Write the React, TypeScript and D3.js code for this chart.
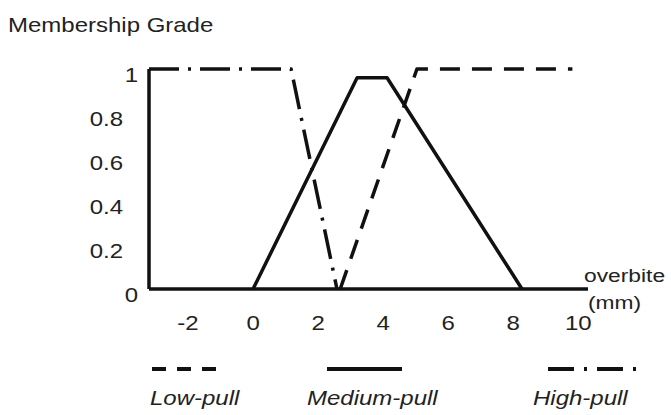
import * as React from "react"
import * as d3 from "d3"

// membership functions, overbite (mm) vs grade
const lowPull: [number, number][] = [
  [2.68, 0],
  [5.04, 1],
  [9.82, 1],
]
const mediumPull: [number, number][] = [
  [0, 0],
  [3.2, 0.96],
  [4.12, 0.96],
  [8.27, 0],
]
const highPull: [number, number][] = [
  [-3.2, 1],
  [1.17, 1],
  [2.58, 0],
]

const xTicks = [-2, 0, 2, 4, 6, 8, 10]
const yTicks = [0, 0.2, 0.4, 0.6, 0.8, 1]

const legendNames = ["Low-pull", "Medium-pull", "High-pull"]

const WIDTH = 671
const HEIGHT = 415
const FONT = "'Liberation Sans', Arial, sans-serif"
const INK = "#111"
const TEXT = "#222"
const SX = 1.2 // the scan is stretched horizontally

export default function App(): React.JSX.Element {
  const xScale = d3.scaleLinear().domain([-3.2, 10.3]).range([149, 588])
  const yScale = d3.scaleLinear().domain([0, 1]).range([289, 69])

  const line = d3
    .line<[number, number]>()
    .x((d) => xScale(d[0]))
    .y((d) => yScale(d[1]))

  const styles = [
    { data: lowPull, dash: "20,12", legendDash: "14,11" },
    { data: mediumPull, dash: "none", legendDash: "none" },
    { data: highPull, dash: "30,9,3,9", legendDash: "26,10,3,10" },
  ]

  // legend layout
  const legendText = [150, 307, 533]
  const legendLine: [number, number][] = [
    [152, 218],
    [327, 402],
    [548, 640],
  ]

  const label = (
    x: number,
    y: number,
    text: string,
    size: number,
    anchor: string,
    italic = false,
    key?: string
  ) => (
    <text
      key={key ?? text}
      transform={`translate(${x},${y}) scale(${SX},1)`}
      textAnchor={anchor}
      dy="0.35em"
      fontSize={size}
      fontFamily={FONT}
      fontStyle={italic ? "italic" : "normal"}
      fill={TEXT}
    >
      {text}
    </text>
  )

  return (
    <svg
      width={WIDTH}
      height={HEIGHT}
      style={{ position: "absolute", left: 0, top: 0, background: "white" }}
    >
      {label(8, 25, "Membership Grade", 20, "start")}

      {/* axes */}
      <line
        x1={xScale(-3.2)}
        x2={xScale(-3.2)}
        y1={yScale(0)}
        y2={yScale(1)}
        stroke={INK}
        strokeWidth={3.5}
      />
      <line
        x1={xScale(-3.2)}
        x2={xScale(10.3)}
        y1={yScale(0)}
        y2={yScale(0)}
        stroke={INK}
        strokeWidth={3.5}
      />

      {/* y tick labels, sitting a little below their grade */}
      {yTicks.map((t) =>
        label(
          xScale(-3.2) - (t === 0 || t === 1 ? 11 : 26),
          yScale(t) + 6,
          d3.format("~g")(t),
          20,
          "end"
        )
      )}

      {xTicks.map((t) => label(xScale(t), 323, String(t), 20, "middle"))}

      {label(584, 275, "overbite", 19, "start")}
      {label(588, 302, "(mm)", 19, "start")}

      {/* membership curves */}
      {styles.map((s, i) => (
        <path
          key={legendNames[i]}
          d={line(s.data) ?? ""}
          fill="none"
          stroke={INK}
          strokeWidth={3.5}
          strokeDasharray={s.dash}
          strokeLinejoin="round"
        />
      ))}

      {/* legend */}
      {legendNames.map((name, i) => (
        <g key={name}>
          <line
            x1={legendLine[i][0]}
            x2={legendLine[i][1]}
            y1={369}
            y2={369}
            stroke={INK}
            strokeWidth={4}
            strokeDasharray={styles[i].legendDash}
          />
          {label(legendText[i], 398, name, 20, "start", true)}
        </g>
      ))}
    </svg>
  )
}
